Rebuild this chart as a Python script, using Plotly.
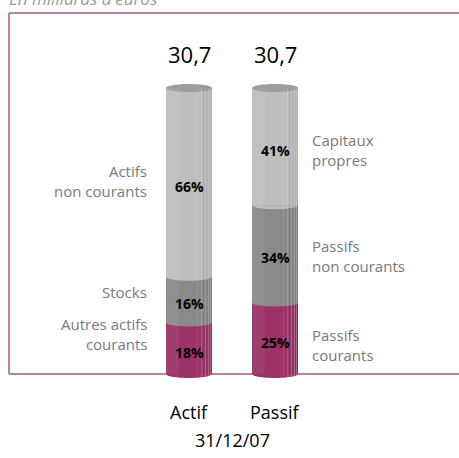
import numpy as np
import plotly.graph_objects as go

# ---- data ----
categories = ["Actif", "Passif"]
totals = ["30,7", "30,7"]
date_label = "31/12/07"
unit_label = "En milliards d'euros"
actif_shares = [18, 16, 66]
passif_shares = [25, 34, 41]
actif_names = ["Autres actifs<br>courants", "Stocks", "Actifs<br>non courants"]
passif_names = ["Passifs<br>courants", "Passifs<br>non courants", "Capitaux<br>propres"]

# ---- style ----
seg_colors = ["#9c3268", "#8a8a8a", "#bebebe"]
cap_color = "#9d9d9d"
frame_color = "#a55a85"
label_grey = "#7a7a7a"
FONT = "'Open Sans', 'Noto Sans', sans-serif"

W, H = 459, 458
xc = [0, 1]
px_x = 86.0
x_center0 = 189.0
base_px = 374.0
px_y = 2.86
bar_w = 46 / px_x
rx = bar_w / 2
ry = 4 / px_y

fig = go.Figure()
shares = [actif_shares, passif_shares]
for i in range(3):
    fig.add_trace(go.Bar(
        x=xc, y=[actif_shares[i], passif_shares[i]], width=bar_w,
        marker=dict(color=seg_colors[i], line=dict(width=0)),
        hoverinfo="skip", showlegend=False))

def half_ellipse(xm, yb, lower=True):
    t = np.linspace(0, np.pi, 30)
    xs = xm - rx * np.cos(t)
    ys = yb - ry * np.sin(t) if lower else yb + ry * np.sin(t)
    return xs, ys

shapes = []
# frame (left, top, bottom baseline)
fx0 = 9 / W
fy_top = 1 - 13 / H
shapes.append(dict(type="line", xref="paper", yref="paper", x0=fx0, x1=fx0, y0=1 - base_px / H, y1=fy_top,
                   line=dict(color=frame_color, width=1.5), layer="below"))
shapes.append(dict(type="line", xref="paper", yref="paper", x0=fx0, x1=1.02, y0=fy_top, y1=fy_top,
                   line=dict(color=frame_color, width=1.5), layer="below"))
shapes.append(dict(type="line", xref="paper", yref="y", x0=fx0, x1=1.02, y0=0, y1=0,
                   line=dict(color=frame_color, width=1.5), layer="below"))

for j, xm in enumerate(xc):
    base = 0
    for i, v in enumerate(shares[j]):
        xs, ys = half_ellipse(xm, base)
        path = "M " + " L ".join(f"{a:.4f},{b:.4f}" for a, b in zip(xs, ys)) + " Z"
        shapes.append(dict(type="path", xref="x", yref="y", path=path,
                           fillcolor=seg_colors[i], line=dict(width=0)))
        base += v
    # top cap ellipse
    t = np.linspace(0, 2 * np.pi, 60)
    xs = xm + rx * np.cos(t)
    ys = base + ry * np.sin(t)
    path = "M " + " L ".join(f"{a:.4f},{b:.4f}" for a, b in zip(xs, ys)) + " Z"
    shapes.append(dict(type="path", xref="x", yref="y", path=path,
                       fillcolor=cap_color, line=dict(width=0)))
    # vertical stripes (cylinder facets)
    for off, op in [(0.10, 0.10), (0.15, 0.25), (0.19, 0.3), (0.225, 0.3), (0.25, 0.25)]:
        shapes.append(dict(type="line", xref="x", yref="y", x0=xm + off, x1=xm + off,
                           y0=-ry * 0.8, y1=base,
                           line=dict(color=f"rgba(255,255,255,{op})", width=1)))
    shapes.append(dict(type="rect", xref="x", yref="y", x0=xm + 0.15, x1=xm + rx, y0=0, y1=base,
                       fillcolor="rgba(0,0,0,0.06)", line=dict(width=0)))
    shapes.append(dict(type="rect", xref="x", yref="y", x0=xm - rx, x1=xm - 0.12, y0=0, y1=base,
                       fillcolor="rgba(255,255,255,0.06)", line=dict(width=0)))

annotations = []
# totals above bars
for j, xm in enumerate(xc):
    annotations.append(dict(x=xm, y=sum(shares[j]), xref="x", yref="y", text=totals[j],
                             showarrow=False, yanchor="bottom", yshift=17,
                             font=dict(family=FONT, size=22, color="black")))
    annotations.append(dict(x=xm, y=0, xref="x", yref="y", text=categories[j],
                             showarrow=False, yanchor="middle", yshift=-38,
                             font=dict(family=FONT, size=18, color="black")))
    base = 0
    for i, v in enumerate(shares[j]):
        annotations.append(dict(x=xm, y=base + v / 2, xref="x", yref="y", text=f"<b>{v}%</b>",
                                 showarrow=False, yshift=-4,
                                 font=dict(family=FONT, size=14, color="black")))
        base += v

annotations.append(dict(x=0.5, y=0, xref="x", yref="y", text=date_label, showarrow=False,
                         yshift=-66, font=dict(family=FONT, size=18, color="black")))

left_shift = [14, 8, 1]
right_shift = [-7, -2, -3]
base_a, base_p = 0, 0
for i in range(3):
    annotations.append(dict(x=-rx - 0.2, y=base_a + actif_shares[i] / 2, xref="x", yref="y",
                             text=actif_names[i], showarrow=False, xanchor="right", align="right",
                             yshift=left_shift[i],
                             font=dict(family=FONT, size=15, color=label_grey)))
    annotations.append(dict(x=1 + rx + 0.14, y=base_p + passif_shares[i] / 2, xref="x", yref="y",
                             text=passif_names[i], showarrow=False, xanchor="left", align="left",
                             yshift=right_shift[i],
                             font=dict(family=FONT, size=15, color=label_grey)))
    base_a += actif_shares[i]
    base_p += passif_shares[i]

annotations.append(dict(x=7 / W, y=1 + 2 / H, xref="paper", yref="paper", text=f"<i>{unit_label}</i>",
                         showarrow=False, xanchor="left", yanchor="middle",
                         font=dict(family=FONT, size=17, color="#9a9a9a")))

fig.update_layout(
    width=W, height=H, barmode="stack", bargap=0,
    margin=dict(l=0, r=0, t=0, b=0),
    paper_bgcolor="white", plot_bgcolor="rgba(0,0,0,0)",
    xaxis=dict(range=[-x_center0 / px_x, (W - x_center0) / px_x], visible=False, fixedrange=True),
    yaxis=dict(range=[-(H - base_px) / px_y, base_px / px_y], visible=False, fixedrange=True),
    shapes=shapes, annotations=annotations,
)

fig.write_html("out.html", config={"displayModeBar": False},
               post_script="document.body.style.margin='0';document.body.style.overflow='hidden';")
